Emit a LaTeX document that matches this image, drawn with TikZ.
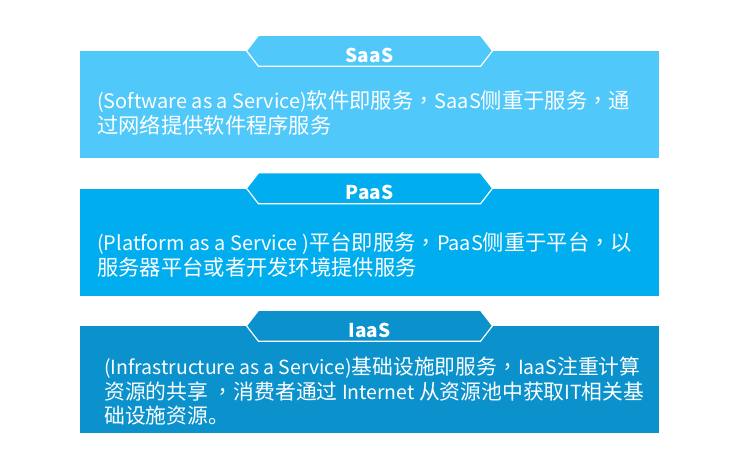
\documentclass[tikz,border=0pt]{standalone}
\usepackage{fontspec}
\setmainfont{Noto Sans CJK SC}
\newfontfamily\lat{Noto Sans CJK SC}[Scale=0.935]
\newfontfamily\tcf{Noto Sans CJK TC}
\newcommand{\cm}{{\tcf ，}}
\definecolor{saas}{RGB}{80,201,250}
\definecolor{paas}{RGB}{0,174,239}
\definecolor{iaas}{RGB}{11,146,204}
\begin{document}
\begin{tikzpicture}[x=1pt,y=-1pt,
  box/.style={draw=none,minimum width=579pt,minimum height=107pt,inner sep=0pt},
  tablabel/.style={text=white,font=\fontsize{19}{19}\selectfont\bfseries,inner sep=0pt},
  body/.style={text=white,font=\fontsize{21.3}{25}\selectfont,align=left,anchor=west,inner sep=0pt},
  tabline/.style={draw=white,line width=1.2pt,line join=miter}]
\useasboundingbox (0,0) rectangle (739,471);
\fill[white] (0,0) rectangle (739,471);
% boxes
\node[box,fill=saas] (b1) at (369.5,104.5) {};
\node[box,fill=paas] (b2) at (369.5,242) {};
\node[box,fill=iaas] (b3) at (369.5,379.5) {};
% tabs
\filldraw[tabline,fill=saas,shift={(b1.north)}] (-123,0) -- (-111,-15.5) -- (111,-15.5) -- (123,0) -- (111,15.5) -- (-111,15.5) -- cycle;
\filldraw[tabline,fill=paas,shift={(b2.north)}] (-123,0) -- (-111,-15.5) -- (111,-15.5) -- (123,0) -- (111,15.5) -- (-111,15.5) -- cycle;
\filldraw[tabline,fill=iaas,shift={(b3.north)}] (-123,0) -- (-111,-15.5) -- (111,-15.5) -- (123,0) -- (111,15.5) -- (-111,15.5) -- cycle;
\node[tablabel] (t1) at ([yshift=-4.5pt]b1.north) {SaaS};
\node[tablabel] (t2) at ([yshift=-4.5pt]b2.north) {PaaS};
\node[tablabel] (t3) at ([yshift=-4.5pt]b3.north) {IaaS};
% texts
\node[body] (d1) at (97,112.5) {{\lat (Software as a Service)}软件即服务\cm{\lat SaaS}侧重于服务\cm 通\\过网络提供软件程序服务};
\node[body] (d2) at (97,254.5) {{\lat (Platform as a Service )}平台即服务\cm{\lat PaaS}侧重于平台\cm 以\\服务器平台或者开发环境提供服务};
\node[body,font=\fontsize{20.8}{24.5}\selectfont] (d3) at (104,391.5) {{\lat (Infrastructure as a Service)}基础设施即服务\cm{\lat IaaS}注重计算\\资源的共享 \cm 消费者通过{\lat\ Internet }从资源池中获取{\lat IT}相关基\\础设施资源。};
\end{tikzpicture}
\end{document}
